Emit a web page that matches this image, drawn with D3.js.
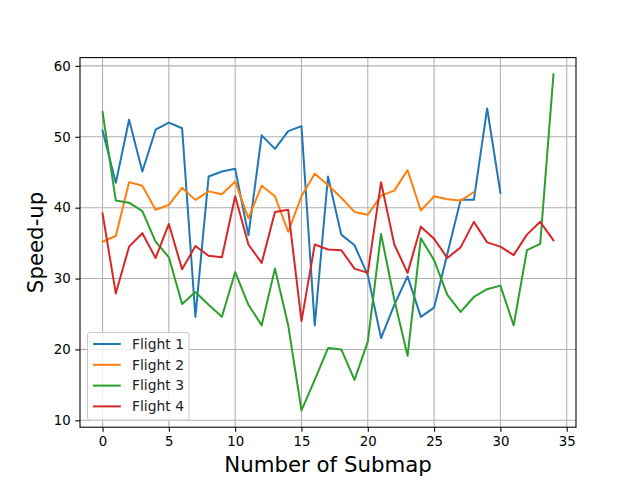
<!DOCTYPE html>
<html>
<head>
<meta charset="utf-8">
<script src="https://cdn.jsdelivr.net/npm/d3@7"></script>
<style>
	body { margin: 0; background: #fff; }
	svg { font-family: 'DejaVu Sans', sans-serif; }
</style>
</head>
<body>
<div id="chart"></div>
<script>
'use strict'

const seriesNames = ['Flight 1', 'Flight 2', 'Flight 3', 'Flight 4']
const seriesColors = ['#1f77b4', '#ff7f0e', '#2ca02c', '#d62728']

const flight1 = [50.9, 43.5, 52.4, 45.1, 51.0, 52.0, 51.2, 24.6, 44.4, 45.1, 45.5, 36.1, 50.2, 48.3, 50.8, 51.5,
	23.4, 44.4, 36.2, 34.7, 30.5, 21.6, 26.3, 30.3, 24.6, 25.9, 33.5, 41.1, 41.1, 54.0, 42.1]
const flight2 = [35.2, 36.0, 43.6, 43.1, 39.7, 40.4, 42.8, 41.1, 42.3, 41.9, 43.7, 38.5, 43.1, 41.6, 36.6, 41.6,
	44.8, 43.2, 41.4, 39.4, 39.0, 41.7, 42.4, 45.3, 39.6, 41.6, 41.2, 41.0, 42.2]
const flight3 = [53.5, 41.0, 40.7, 39.5, 35.2, 33.0, 26.4, 28.1, 26.3, 24.6, 30.9, 26.3, 23.4, 31.4, 23.4, 11.4,
	15.7, 20.2, 20.0, 15.7, 21.1, 36.3, 27.0, 19.1, 35.7, 32.6, 27.7, 25.3, 27.4, 28.5, 29.0, 23.4, 34.0, 34.9, 58.8]
const flight4 = [39.2, 27.9, 34.5, 36.4, 32.9, 37.7, 31.3, 34.6, 33.2, 33.0, 41.6, 34.8, 32.2, 39.4, 39.7, 24.0,
	34.8, 34.1, 34.0, 31.4, 30.8, 43.6, 34.8, 30.8, 37.3, 35.6, 32.9, 34.4, 38.0, 35.1, 34.5, 33.3, 36.2, 38.0, 35.4]

const xTicks = [0, 5, 10, 15, 20, 25, 30, 35]
const yTicks = [10, 20, 30, 40, 50, 60]
const xLabel = 'Number of Submap'
const yLabel = 'Speed-up'

const width = 640
const height = 480
const margin = {top: 57.6, right: 64, bottom: 52.8, left: 80}

const allSeries = [flight1, flight2, flight3, flight4]

const svg = d3.select('#chart').append('svg')
	.attr('width', width)
	.attr('height', height)

const xMax = d3.max(allSeries, (s) => s.length - 1)
const yMin = d3.min(allSeries, (s) => d3.min(s))
const yMax = d3.max(allSeries, (s) => d3.max(s))
const xPad = xMax * 0.05
const yPad = (yMax - yMin) * 0.05

const x = d3.scaleLinear()
	.domain([-xPad, xMax + xPad])
	.range([margin.left, width - margin.right])

const y = d3.scaleLinear()
	.domain([yMin - yPad, yMax + yPad])
	.range([height - margin.bottom, margin.top])

// grid
const grid = svg.append('g').attr('class', 'grid')
grid.selectAll('.gx')
	.data(xTicks)
	.enter()
	.append('line')
	.attr('x1', (d) => x(d))
	.attr('x2', (d) => x(d))
	.attr('y1', margin.top)
	.attr('y2', height - margin.bottom)
	.attr('stroke', '#b0b0b0')
	.attr('stroke-width', 1.07)

grid.selectAll('.gy')
	.data(yTicks)
	.enter()
	.append('line')
	.attr('x1', margin.left)
	.attr('x2', width - margin.right)
	.attr('y1', (d) => y(d))
	.attr('y2', (d) => y(d))
	.attr('stroke', '#b0b0b0')
	.attr('stroke-width', 1.07)

// lines
const line = d3.line()
	.x((d, i) => x(i))
	.y((d) => y(d))

svg.append('g')
	.selectAll('path')
	.data(allSeries)
	.enter()
	.append('path')
	.attr('d', (d) => line(d))
	.attr('fill', 'none')
	.attr('stroke', (d, i) => seriesColors[i])
	.attr('stroke-width', 2)
	.attr('stroke-linejoin', 'round')
	.attr('stroke-linecap', 'square')

// axes
const xAxis = svg.append('g')
	.attr('transform', `translate(0,${height - margin.bottom})`)
	.call(d3.axisBottom(x).tickValues(xTicks).tickSize(4.67).tickPadding(4.67).tickFormat(d3.format('d')))

const yAxis = svg.append('g')
	.attr('transform', `translate(${margin.left},0)`)
	.call(d3.axisLeft(y).tickValues(yTicks).tickSize(4.67).tickPadding(4.67).tickFormat(d3.format('d')))

;[xAxis, yAxis].forEach((ax) => {
	ax.select('.domain').remove()
	ax.selectAll('.tick line').attr('stroke', '#000').attr('stroke-width', 1.07)
	ax.selectAll('.tick text')
		.attr('fill', '#000')
		.style('font-family', "'DejaVu Sans', sans-serif")
		.style('font-size', '13.3px')
})

// frame
svg.append('rect')
	.attr('x', margin.left)
	.attr('y', margin.top)
	.attr('width', width - margin.left - margin.right)
	.attr('height', height - margin.top - margin.bottom)
	.attr('fill', 'none')
	.attr('stroke', '#000')
	.attr('stroke-width', 1.07)

// labels
svg.append('text')
	.attr('x', (margin.left + width - margin.right) / 2)
	.attr('y', 471.5)
	.attr('text-anchor', 'middle')
	.style('font-size', '21.3px')
	.text(xLabel)

svg.append('text')
	.attr('transform', `translate(43,${(margin.top + height - margin.bottom) / 2}) rotate(-90)`)
	.attr('text-anchor', 'middle')
	.style('font-size', '21.3px')
	.text(yLabel)

// legend
const legend = svg.append('g')
	.attr('transform', 'translate(87.5,332.5)')

legend.append('rect')
	.attr('width', 101.5)
	.attr('height', 87.5)
	.attr('rx', 2.8)
	.attr('fill', 'rgba(255,255,255,0.8)')
	.attr('stroke', '#cccccc')
	.attr('stroke-width', 1.07)

const entries = legend.selectAll('.entry')
	.data(seriesNames)
	.enter()
	.append('g')
	.attr('transform', (d, i) => `translate(0,${11.5 + i * 20.8})`)

entries.append('line')
	.attr('x1', 5.5)
	.attr('x2', 33.3)
	.attr('stroke', (d, i) => seriesColors[i])
	.attr('stroke-width', 2)

entries.append('text')
	.attr('x', 44.5)
	.attr('dy', '0.35em')
	.style('font-size', '13.9px')
	.attr('fill', '#222')
	.text((d) => d)
</script>
</body>
</html>
